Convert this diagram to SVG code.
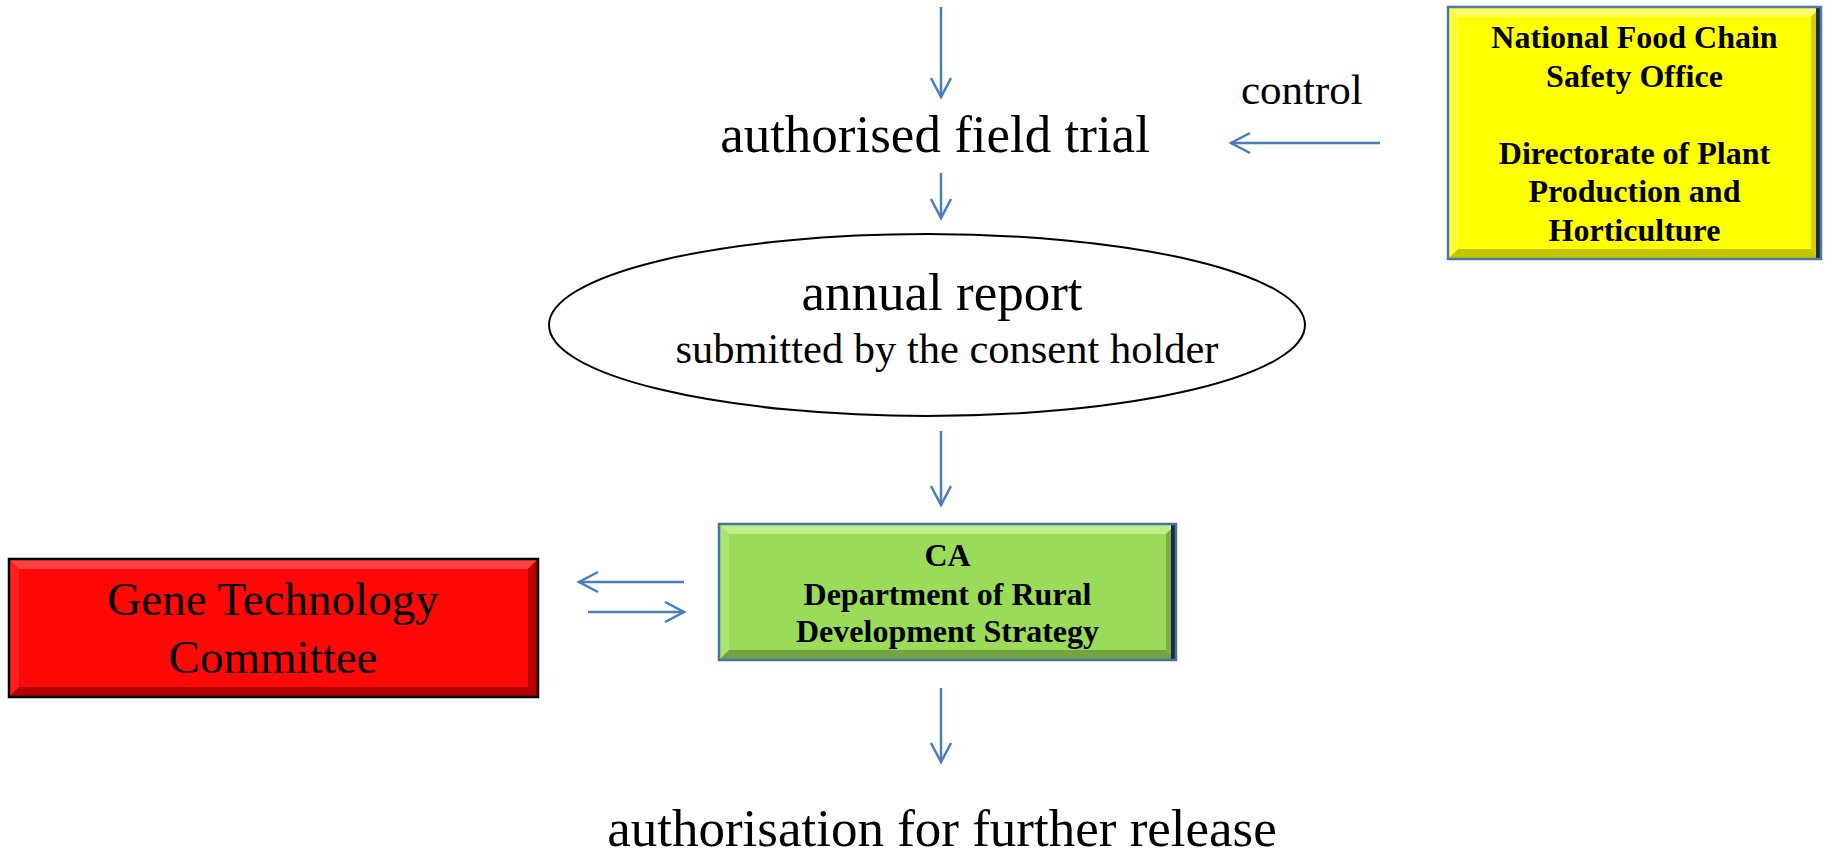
<svg xmlns="http://www.w3.org/2000/svg" width="1825" height="857" viewBox="0 0 1825 857">
<style>
.t{font-family:"Liberation Serif","Times New Roman",serif;fill:#000;text-anchor:middle}
.b{font-weight:bold}
.c{stroke:#4A7EBB;stroke-width:2.5;fill:none}
</style>
<defs>
<marker id="ah" markerUnits="userSpaceOnUse" markerWidth="26" markerHeight="26" viewBox="-23 -13 26 26" refX="0" refY="0" orient="auto">
<path d="M-19,-10 L0,0 L-19,10" fill="none" stroke="#4A7EBB" stroke-width="2.5"/>
</marker>
</defs>
<rect width="1825" height="857" fill="#fff"/>

<g id="connectors" class="c">
<line x1="941" y1="7" x2="941" y2="97" marker-end="url(#ah)"/>
<line x1="941" y1="173" x2="941" y2="218" marker-end="url(#ah)"/>
<line x1="1380" y1="143" x2="1231" y2="143" marker-end="url(#ah)"/>
<line x1="941" y1="431" x2="941" y2="505" marker-end="url(#ah)"/>
<line x1="684" y1="582" x2="579" y2="582" marker-end="url(#ah)"/>
<line x1="588" y1="612" x2="684" y2="612" marker-end="url(#ah)"/>
<line x1="941" y1="688" x2="941" y2="762" marker-end="url(#ah)"/>
</g>

<g id="field-trial">
<text class="t" x="935" y="152" font-size="53">authorised field trial</text>
</g>

<g id="control-label">
<text class="t" x="1241" y="104" font-size="43" style="text-anchor:start">control</text>
</g>

<g id="yellow-office">
<rect x="1448" y="7" width="373" height="252" fill="#FFFF00"/>
<polygon points="1448,7 1821,7 1811,17 1458,17" fill="#FFFF66"/>
<polygon points="1448,7 1458,17 1458,249 1448,259" fill="#FFFF3A"/>
<polygon points="1448,259 1458,249 1811,249 1821,259" fill="#C4C400"/>
<polygon points="1821,7 1811,17 1811,249 1821,259" fill="#D0D000"/>
<rect x="1816" y="8" width="4" height="250" fill="#1E2A3A"/>
<rect x="1448" y="7" width="373" height="252" fill="none" stroke="#4F77A8" stroke-width="2.5"/>
<text class="t b" x="1634.5" y="48" font-size="32">National Food Chain</text>
<text class="t b" x="1634.5" y="87" font-size="32">Safety Office</text>
<text class="t b" x="1634.5" y="164" font-size="32">Directorate of Plant</text>
<text class="t b" x="1634.5" y="202" font-size="32">Production and</text>
<text class="t b" x="1634.5" y="241" font-size="32">Horticulture</text>
</g>

<g id="annual-report">
<ellipse cx="927" cy="325" rx="378" ry="91" fill="#fff" stroke="#000" stroke-width="2"/>
<text class="t" x="942" y="310" font-size="53">annual report</text>
<text class="t" x="947" y="363" font-size="42.5">submitted by the consent holder</text>
</g>

<g id="gene-committee">
<rect x="9" y="559" width="529" height="138" fill="#FF0808"/>
<polygon points="9,559 538,559 528,569 19,569" fill="#FF4040"/>
<polygon points="9,559 19,569 19,687 9,697" fill="#FF2020"/>
<polygon points="9,697 19,687 528,687 538,697" fill="#B00000"/>
<polygon points="538,559 528,569 528,687 538,697" fill="#B80000"/>
<rect x="9" y="559" width="529" height="138" fill="none" stroke="#000" stroke-width="2.5"/>
<text class="t" x="273" y="615" font-size="47">Gene Technology</text>
<text class="t" x="273" y="673" font-size="47">Committee</text>
</g>

<g id="ca-department">
<rect x="719" y="524" width="457" height="136" fill="#9BDB5A"/>
<polygon points="719,524 1176,524 1166,534 729,534" fill="#C2EE88"/>
<polygon points="719,524 729,534 729,650 719,660" fill="#AEE470"/>
<polygon points="719,660 729,650 1166,650 1176,660" fill="#74A442"/>
<polygon points="1176,524 1166,534 1166,650 1176,660" fill="#7CAE46"/>
<rect x="1171" y="525" width="4" height="134" fill="#1E2A3A"/>
<rect x="719" y="524" width="457" height="136" fill="none" stroke="#4472A8" stroke-width="2.5"/>
<text class="t b" x="947.5" y="566" font-size="32">CA</text>
<text class="t b" x="947.5" y="605" font-size="32">Department of Rural</text>
<text class="t b" x="947.5" y="642" font-size="32">Development Strategy</text>
</g>

<g id="further-release">
<text class="t" x="942" y="846" font-size="53">authorisation for further release</text>
</g>
</svg>
